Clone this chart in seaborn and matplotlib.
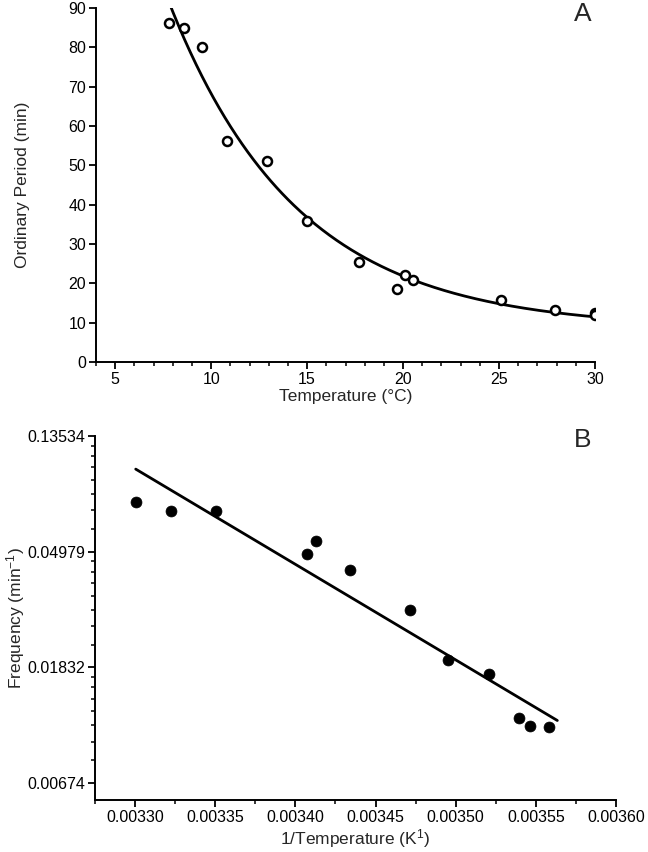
import numpy as np
import pandas as pd
import matplotlib
matplotlib.use("Agg")
import matplotlib.pyplot as plt
from matplotlib.ticker import FixedLocator, MultipleLocator, NullFormatter
import seaborn as sns

# ---------------- data ----------------
# Panel A: temperature (°C) vs ordinary period (min)
temp_c = [7.8, 8.6, 9.5, 10.8, 12.9, 15.0, 17.7, 19.7, 20.1, 20.5, 25.1, 27.9, 30.0, 30.0]
period_min = [86.3, 84.8, 80.0, 56.3, 51.1, 35.9, 25.4, 18.5, 22.1, 20.8, 15.8, 13.2, 12.5, 11.9]

# Panel B: 1/T (K^-1) vs frequency (min^-1)
inv_temp = [0.0033004, 0.0033224, 0.0033503, 0.0034071, 0.0034129, 0.0034340,
            0.0034715, 0.0034955, 0.0035205, 0.0035392, 0.0035461, 0.0035584]
frequency = [0.0766, 0.0707, 0.0707, 0.0487, 0.0545, 0.0424,
             0.0300, 0.01947, 0.01724, 0.01185, 0.01102, 0.01093]

# tick values
a_xticks = [5, 10, 15, 20, 25, 30]
a_yticks = [0, 10, 20, 30, 40, 50, 60, 70, 80, 90]
b_xticks = [0.00330, 0.00335, 0.00340, 0.00345, 0.00350, 0.00355, 0.00360]
b_ln_ticks = [-2, -3, -4, -5]

# ---------------- style ----------------
sns.set_style("ticks")
plt.rcParams["font.family"] = ["Liberation Sans", "DejaVu Sans"]
plt.rcParams["mathtext.fontset"] = "custom"
plt.rcParams["mathtext.rm"] = "Liberation Sans"
plt.rcParams["mathtext.default"] = "regular"

TICK_FS = 11.5
LABEL_FS = 12.5

fig = plt.figure(figsize=(6.48, 8.52), dpi=100)
axA = fig.add_axes([96 / 648, 1 - 362 / 852, 499 / 648, 354 / 852])
axB = fig.add_axes([95 / 648, 52 / 852, 521 / 648, 364 / 852])

# ---------------- panel A ----------------
dfA = pd.DataFrame({"T": temp_c, "P": period_min})

# exponential decay fit y = y0 + A*exp(-x/t)
x = np.asarray(temp_c, float)
y = np.asarray(period_min, float)
best = None
for t in np.linspace(1.0, 30.0, 3000):
    M = np.column_stack([np.ones_like(x), np.exp(-x / t)])
    coef, *_ = np.linalg.lstsq(M, y, rcond=None)
    sse = np.sum((M @ coef - y) ** 2)
    if best is None or sse < best[0]:
        best = (sse, t, coef)
_, t_fit, (y0_fit, A_fit) = best
xs = np.linspace(x.min() - 0.15, x.max(), 300)
fitA = pd.DataFrame({"T": xs, "P": y0_fit + A_fit * np.exp(-xs / t_fit)})
sns.lineplot(data=fitA, x="T", y="P", ax=axA, color="black", lw=2.0, zorder=2)
sns.scatterplot(data=dfA, x="T", y="P", ax=axA, marker="o", s=42,
                facecolor="white", edgecolor="black", linewidth=1.8, zorder=3)

axA.set_xlim(4, 30)
axA.set_ylim(0, 90)
axA.xaxis.set_major_locator(FixedLocator(a_xticks))
axA.xaxis.set_minor_locator(MultipleLocator(1))
axA.yaxis.set_major_locator(FixedLocator(a_yticks))
axA.set_xlabel("Temperature (°C)", fontsize=LABEL_FS, labelpad=2)
axA.set_ylabel("Ordinary Period (min)", fontsize=LABEL_FS, labelpad=28)

# ---------------- panel B ----------------
dfB = pd.DataFrame({"x": inv_temp, "f": frequency})
xb = np.asarray(inv_temp, float)
lnf = np.log(np.asarray(frequency, float))
slope, intercept = np.polyfit(xb, lnf, 1)
xl = np.linspace(xb.min(), xb.max() + 0.000005, 50)
fitB = pd.DataFrame({"x": xl, "f": np.exp(intercept + slope * xl)})

axB.set_yscale("log")
sns.lineplot(data=fitB, x="x", y="f", ax=axB, color="black", lw=2.0, zorder=2)
sns.scatterplot(data=dfB, x="x", y="f", ax=axB, marker="o", s=62,
                color="black", edgecolor="black", linewidth=0.5, zorder=3)

axB.set_xlim(0.003275, 0.00360)
axB.set_ylim(np.exp(-5.147), np.exp(-2.0))
axB.xaxis.set_major_locator(FixedLocator(b_xticks))
axB.xaxis.set_minor_locator(MultipleLocator(0.000025))
axB.set_xticklabels([f"{v:.5f}" for v in b_xticks])
major_vals = [np.exp(k) for k in b_ln_ticks]
axB.yaxis.set_major_locator(FixedLocator(major_vals))
axB.set_yticklabels([f"{v:.5f}" for v in major_vals])
minor_vals = []
for hi, lo in zip(major_vals[:-1], major_vals[1:]):
    minor_vals += list(lo + (hi - lo) * np.arange(1, 8) / 8.0)
axB.yaxis.set_minor_locator(FixedLocator(minor_vals))
axB.yaxis.set_minor_formatter(NullFormatter())
axB.set_xlabel("1/Temperature (K$^{1}$)", fontsize=LABEL_FS, labelpad=2)
axB.set_ylabel("Frequency (min$^{-1}$)", fontsize=LABEL_FS, labelpad=0)

# ---------------- common axis styling ----------------
for ax in (axA, axB):
    sns.despine(ax=ax)
    for side in ("left", "bottom"):
        ax.spines[side].set_linewidth(1.4)
        ax.spines[side].set_color("black")
    ax.tick_params(which="major", direction="out", length=5, width=1.3,
                   labelsize=TICK_FS, colors="black", pad=2)
    ax.tick_params(which="minor", direction="out", length=3, width=1.1, colors="black")
    ax.set_facecolor("white")

fig.text(583 / 648, 1 - 14 / 852, "A", fontsize=19, ha="center", va="center")
fig.text(583 / 648, 1 - 440 / 852, "B", fontsize=19, ha="center", va="center")

fig.savefig("out.png", dpi=100, facecolor="white")
